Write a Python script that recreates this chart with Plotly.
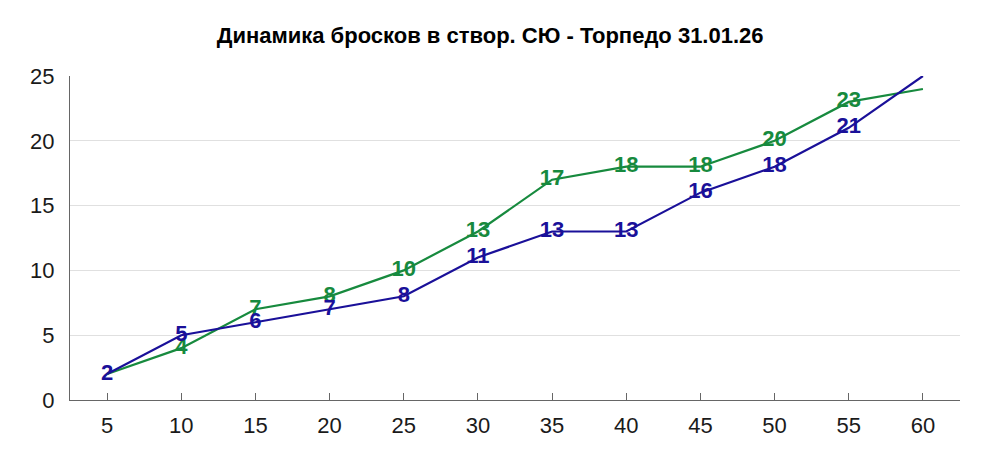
import plotly.graph_objects as go

# Данные
minutes = ['5', '10', '15', '20', '25', '30', '35', '40', '45', '50', '55', '60']
shots_blue = [2, 5, 6, 7, 8, 11, 13, 13, 16, 18, 21, 25]
shots_green = [2, 4, 7, 8, 10, 13, 17, 18, 18, 20, 23, 24]
labels_blue = ['2', '5', '6', '7', '8', '11', '13', '13', '16', '18', '21', '']
labels_green = ['', '4', '7', '8', '10', '13', '17', '18', '18', '20', '23', '']

BLUE = '#1a1099'
GREEN = '#178a3e'

fig = go.Figure()

# подписи рисуем первыми, чтобы линии шли поверх них
for ys, labels, color in [(shots_green, labels_green, GREEN), (shots_blue, labels_blue, BLUE)]:
    fig.add_trace(go.Scatter(
        x=minutes, y=ys, mode='text', text=labels,
        textposition='middle center',
        textfont=dict(family='Liberation Sans', size=22, color=color, weight='bold'),
        showlegend=False, hoverinfo='skip', cliponaxis=False
    ))

for ys, color in [(shots_green, GREEN), (shots_blue, BLUE)]:
    fig.add_trace(go.Scatter(
        x=minutes, y=ys, mode='lines',
        line=dict(color=color, width=2.2),
        showlegend=False, cliponaxis=False
    ))

# страница имеет отступ body 8px, поэтому фигура чуть меньше окна
fig.update_layout(
    width=976, height=452,
    margin=dict(l=62, r=24, t=68, b=60, autoexpand=False),
    paper_bgcolor='white', plot_bgcolor='white',
    title=dict(
        text='Динамика бросков в створ. СЮ - Торпедо 31.01.26',
        x=0.494, xanchor='center', y=0.94, yanchor='middle',
        font=dict(family='Liberation Sans', size=22, color='black', weight='bold'),
        automargin=False
    ),
    font=dict(family='Liberation Sans', size=22, color='#1a1a1a'),
)
fig.update_xaxes(
    type='category', range=[-0.5, len(minutes) - 0.5],
    showgrid=False, automargin=False,
    showline=True, linecolor='#666', linewidth=1.2,
    ticks='inside', ticklen=7, tickwidth=1.2, tickcolor='#666',
    tickfont=dict(size=22, color='#1a1a1a'), ticklabelstandoff=5
)
fig.update_yaxes(
    range=[0, 25], dtick=5, showgrid=True, gridcolor='#e0e0e0', automargin=False,
    showline=True, linecolor='#666', linewidth=1.2, zeroline=False,
    tickfont=dict(size=22, color='#1a1a1a'), ticklabelstandoff=10
)

fig.write_html("out.html")
